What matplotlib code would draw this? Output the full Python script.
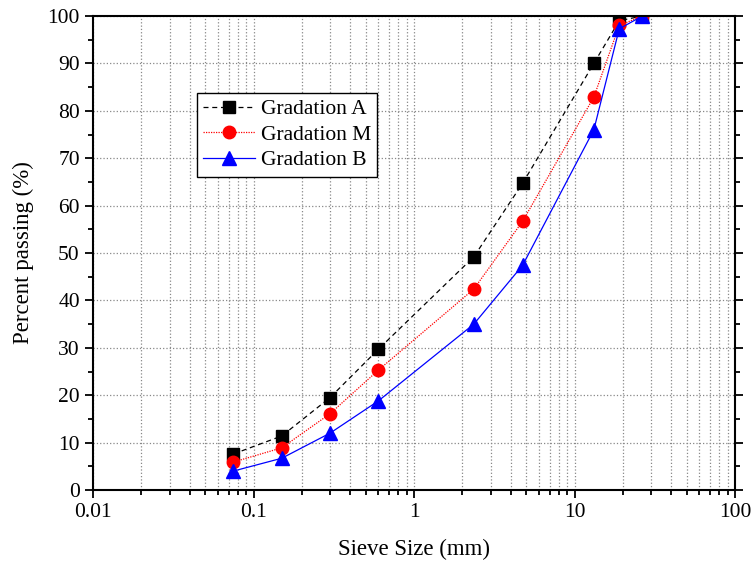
import matplotlib
matplotlib.use("Agg")
import matplotlib.pyplot as plt
from matplotlib.ticker import LogLocator, FixedLocator, NullFormatter

# sieve sizes (mm) and percent passing
sieve = [0.075, 0.15, 0.3, 0.6, 2.36, 4.75, 13.2, 19, 26.5]
grad_a = [7.6, 11.4, 19.5, 29.7, 49.2, 64.7, 90.0, 99.0, 100.0]
grad_m = [5.9, 8.9, 16.1, 25.3, 42.4, 56.7, 82.9, 98.0, 100.0]
grad_b = [4.0, 6.7, 12.0, 18.8, 35.0, 47.4, 76.0, 97.3, 100.0]
yticks = list(range(0, 101, 10))
xticks = [0.01, 0.1, 1, 10, 100]
xticklabels = ["0.01", "0.1", "1", "10", "100"]

plt.rcParams['font.family'] = ['Liberation Serif', 'DejaVu Serif']
plt.rcParams['font.size'] = 15.5

fig = plt.figure(figsize=(7.54, 5.72), dpi=100)
ax = fig.add_axes([93/754, 1 - 490/572, 642/754, 474/572])

ax.plot(sieve, grad_a, color='black', linestyle=(0, (4, 3)), linewidth=0.9,
        marker='s', markersize=8, label="Gradation A")
ax.plot(sieve, grad_m, color='red', linestyle=(0, (1, 1)), linewidth=0.9,
        marker='o', markersize=9, label="Gradation M")
ax.plot(sieve, grad_b, color='blue', linestyle='-', linewidth=0.9,
        marker='^', markersize=10, label="Gradation B")

ax.set_xscale('log')
ax.set_xlim(0.01, 100)
ax.set_ylim(0, 100)
ax.xaxis.set_major_locator(FixedLocator(xticks))
ax.set_xticklabels(xticklabels)
ax.xaxis.set_minor_locator(LogLocator(base=10, subs=range(2, 10), numticks=20))
ax.xaxis.set_minor_formatter(NullFormatter())
ax.set_yticks(yticks)
ax.set_yticks(range(5, 100, 10), minor=True)

ax.grid(True, which='major', color='#888888', linestyle=':', linewidth=0.9)
ax.grid(True, which='minor', axis='x', color='#888888', linestyle=':', linewidth=0.9)

ax.tick_params(which='both', direction='out', right=True, top=False, width=1.3)
ax.tick_params(which='major', length=6, labelsize=15.5)
ax.tick_params(which='minor', length=3.5)
for s in ax.spines.values():
    s.set_linewidth(1.5)

ax.set_xlabel("Sieve Size (mm)", fontsize=16.5, labelpad=12)
ax.set_ylabel("Percent passing (%)", fontsize=16.5, labelpad=10)

leg = ax.legend(loc='upper left', bbox_to_anchor=(0.162, 0.838), fontsize=15.5,
                frameon=True, fancybox=False, edgecolor='black', framealpha=1,
                handlelength=2.4, borderpad=0.3, labelspacing=0.25, handletextpad=0.25,
                borderaxespad=0)
leg.get_frame().set_linewidth(1.0)

fig.savefig("out.png", dpi=100)
